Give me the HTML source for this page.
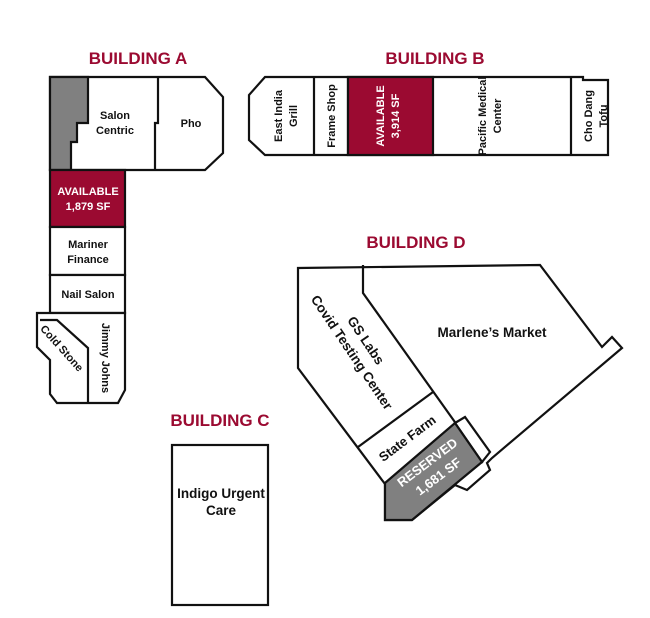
<!DOCTYPE html>
<html><head><meta charset="utf-8"><style>
html,body{margin:0;padding:0;background:#fff;width:650px;height:618px;overflow:hidden}
svg{display:block}
text{font-family:"Liberation Sans",Arial,sans-serif;font-weight:bold;fill:#111;font-size:11px}
.h{fill:#9b0a31;font-size:17px}
.w{fill:#fff}
.b{font-size:13.5px}
.m{font-size:13px}
</style></head><body>
<svg width="650" height="618" viewBox="0 0 650 618" xmlns="http://www.w3.org/2000/svg">
<g stroke="#111" stroke-width="2.2" fill="#fff" stroke-linejoin="miter">
<polygon points="50,77 205,77 223,97 223,153 205,170 50,170"/>
<polygon points="50,77 88,77 88,123 77,123 77,142 71,142 71,170 50,170" fill="#808080"/>
<polyline points="158,77 158,123 155,123 155,170" fill="none"/>
<rect x="50" y="170" width="75" height="57" fill="#9b0a31"/>
<rect x="50" y="227" width="75" height="48"/>
<rect x="50" y="275" width="75" height="38"/>
<polygon points="37,313 125,313 125,390 118,403 57,403 50,394 50,360 37,347"/>
<polyline points="40,320 57,320 88,348 88,403" fill="none"/>
<polygon points="265,77 583,77 583,80 608,80 608,155 265,155 249,140 249,95"/>
<line x1="314" y1="77" x2="314" y2="155"/>
<line x1="348" y1="77" x2="348" y2="155"/>
<rect x="348" y="77" width="85" height="78" fill="#9b0a31"/>
<line x1="571" y1="77" x2="571" y2="155"/>
<rect x="172" y="445" width="96" height="160"/>
<polygon points="298,268 540,265 602,347 612,337 622,348 492,458 487,463 490,470 467,490 455,485 412,520 385,520 385,484 298,368"/>
<polyline points="363,265 363,293 457,425" fill="none"/>
<line x1="358" y1="447" x2="433" y2="392"/>
<polygon points="455,423 465,417 490,452 482,462"/>
<polygon points="385,483 455,423 482,462 412,520 385,520" fill="#808080"/>
</g>
<text class="h" x="138" y="64" text-anchor="middle">BUILDING A</text>
<text class="h" x="435" y="64" text-anchor="middle">BUILDING B</text>
<text class="h" x="416" y="248" text-anchor="middle">BUILDING D</text>
<text class="h" x="220" y="426" text-anchor="middle">BUILDING C</text>
<text x="115" y="119" text-anchor="middle">Salon</text>
<text x="115" y="134" text-anchor="middle">Centric</text>
<text x="191" y="127" text-anchor="middle">Pho</text>
<text class="w" x="88" y="195" text-anchor="middle">AVAILABLE</text>
<text class="w" x="88" y="210" text-anchor="middle">1,879 SF</text>
<text x="88" y="248" text-anchor="middle">Mariner</text>
<text x="88" y="263" text-anchor="middle">Finance</text>
<text x="88" y="298" text-anchor="middle">Nail Salon</text>
<text transform="translate(62,348) rotate(48)" text-anchor="middle" dy="4">Cold Stone</text>
<text transform="translate(106,358) rotate(90)" text-anchor="middle" dy="4">Jimmy Johns</text>
<text transform="translate(282,116) rotate(-90)" text-anchor="middle">East India</text>
<text transform="translate(297,116) rotate(-90)" text-anchor="middle">Grill</text>
<text transform="translate(335,116) rotate(-90)" text-anchor="middle">Frame Shop</text>
<text class="w" transform="translate(384,116) rotate(-90)" text-anchor="middle">AVAILABLE</text>
<text class="w" transform="translate(399,116) rotate(-90)" text-anchor="middle">3,914 SF</text>
<text transform="translate(486,116) rotate(-90)" text-anchor="middle">Pacific Medical</text>
<text transform="translate(501,116) rotate(-90)" text-anchor="middle">Center</text>
<text transform="translate(592,116) rotate(-90)" text-anchor="middle">Cho Dang</text>
<text transform="translate(607,116) rotate(-90)" text-anchor="middle">Tofu</text>
<text class="b" x="492" y="337" text-anchor="middle">Marlene’s Market</text>
<text class="b" transform="translate(362,343) rotate(56)" text-anchor="middle">GS Labs</text>
<text class="b" transform="translate(348,355) rotate(56)" text-anchor="middle">Covid Testing Center</text>
<text class="m" transform="translate(410,442) rotate(-37)" text-anchor="middle">State Farm</text>
<text class="w m" transform="translate(430,466) rotate(-37)" text-anchor="middle">RESERVED</text>
<text class="w m" transform="translate(441,480) rotate(-37)" text-anchor="middle">1,681 SF</text>
<text class="b" x="221" y="498" text-anchor="middle">Indigo Urgent</text>
<text class="b" x="221" y="515" text-anchor="middle">Care</text>
</svg>
</body></html>
